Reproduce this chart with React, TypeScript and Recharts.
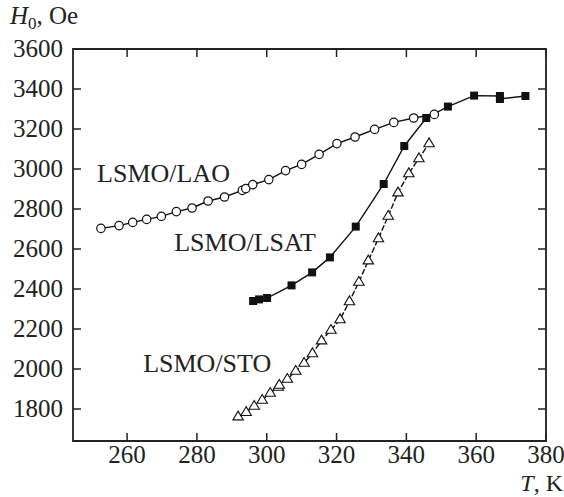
import React from 'react';
import { ComposedChart, Line, XAxis, YAxis, ReferenceArea, ReferenceDot } from 'recharts';

const laoT = [252.5, 257.7, 261.6, 265.6, 269.8, 274.1, 278.6, 283.2, 287.9, 293.0, 294.0, 296.0, 300.6, 305.4, 310.0, 315.0, 320.1, 325.3, 330.9, 336.4, 342.1, 348.0];
const laoH = [2703, 2717, 2733, 2748, 2763, 2787, 2805, 2840, 2860, 2893, 2902, 2922, 2947, 2992, 3023, 3073, 3127, 3160, 3198, 3233, 3255, 3273];

const lsatT = [296.1, 297.8, 300.1, 307.1, 313.0, 318.1, 325.5, 333.5, 339.4, 345.7, 351.9, 359.4, 366.8, 366.8, 374.1];
const lsatH = [2340, 2348, 2355, 2418, 2483, 2558, 2712, 2925, 3115, 3255, 3312, 3367, 3365, 3350, 3365];

const stoT = [291.8, 294.1, 296.4, 298.7, 301.0, 303.3, 303.6, 305.9, 308.3, 310.7, 313.1, 315.7, 318.4, 321.0, 323.7, 326.4, 329.1, 332.0, 334.8, 337.6, 340.7, 343.6, 346.5];
const stoH = [1762, 1784, 1815, 1845, 1880, 1910, 1920, 1950, 1990, 2030, 2078, 2142, 2195, 2248, 2338, 2435, 2542, 2653, 2765, 2882, 2978, 3053, 3128];

const xTicks = [260, 280, 300, 320, 340, 360, 380];
const yTicks = [1800, 2000, 2200, 2400, 2600, 2800, 3000, 3200, 3400, 3600];
const xDomain: [number, number] = [244.5, 380];
const yDomain: [number, number] = [1640, 3600];

const seriesLabels = [
  { text: 'LSMO/LAO', T: 251.4, H: 2935 },
  { text: 'LSMO/LSAT', T: 273.5, H: 2590 },
  { text: 'LSMO/STO', T: 264.6, H: 1985 },
];

const zip = (t: number[], h: number[]) => t.map((T, i) => ({ T, H: h[i] }));
const lao = zip(laoT, laoH);
const lsat = zip(lsatT, lsatH);
const sto = zip(stoT, stoH);

const W = 564;
const H = 497;
const M = { top: 49, right: 18, bottom: 56, left: 73 };
const FONT = '"Liberation Serif", "Times New Roman", serif';
const TICK = 8;
const FS = 25;

const XTick = (props: any) => {
  const { x, payload } = props;
  const bottom = H - M.bottom;
  return (
    <g>
      <line x1={x} x2={x} y1={bottom} y2={bottom - TICK} stroke="#222" strokeWidth={1.5} />
      <line x1={x} x2={x} y1={M.top} y2={M.top + TICK} stroke="#222" strokeWidth={1.5} />
      <text x={x} y={bottom + 22} textAnchor="middle" fontFamily={FONT} fontSize={FS} fill="#222">
        {payload.value}
      </text>
    </g>
  );
};

const YTick = (props: any) => {
  const { y, payload } = props;
  const left = M.left;
  const right = W - M.right;
  return (
    <g>
      <line x1={left} x2={left + TICK} y1={y} y2={y} stroke="#222" strokeWidth={1.5} />
      <line x1={right} x2={right - TICK} y1={y} y2={y} stroke="#222" strokeWidth={1.5} />
      <text x={left - 10} y={y + 8} textAnchor="end" fontFamily={FONT} fontSize={FS} fill="#222">
        {payload.value}
      </text>
    </g>
  );
};

const CircleDot = (props: any) => {
  const { cx, cy, index } = props;
  return <circle key={`c${index}`} cx={cx} cy={cy} r={4.2} fill="#fff" stroke="#111" strokeWidth={1.2} />;
};

const SquareDot = (props: any) => {
  const { cx, cy, index } = props;
  const s = 8;
  return <rect key={`s${index}`} x={cx - s / 2} y={cy - s / 2} width={s} height={s} fill="#111" />;
};

const TriDot = (props: any) => {
  const { cx, cy, index } = props;
  const r = 5.5;
  const pts = `${cx},${cy - r} ${cx - r * 0.95},${cy + r * 0.6} ${cx + r * 0.95},${cy + r * 0.6}`;
  return <polygon key={`t${index}`} points={pts} fill="#fff" stroke="#111" strokeWidth={1.1} />;
};

const TextLabel = (text: string) => (props: any) => {
  const { viewBox } = props;
  return (
    <text x={viewBox.x} y={viewBox.y} fontFamily={FONT} fontSize={26} fill="#222" textAnchor="start">
      {text}
    </text>
  );
};

export default function App() {
  return (
    <div style={{ position: 'absolute', left: 0, top: 0, width: W, height: H, background: '#fff' }}>
      <ComposedChart
        width={W}
        height={H}
        margin={{ top: M.top, right: M.right, bottom: M.bottom - 30, left: M.left - 60 }}
      >
        <XAxis
          type="number"
          dataKey="T"
          domain={xDomain}
          ticks={xTicks}
          allowDataOverflow
          height={30}
          tickSize={0}
          tickLine={false}
          axisLine={false}
          tick={<XTick />}
          interval={0}
        />
        <YAxis
          type="number"
          dataKey="H"
          domain={yDomain}
          ticks={yTicks}
          allowDataOverflow
          width={60}
          tickSize={0}
          tickLine={false}
          axisLine={false}
          tick={<YTick />}
          interval={0}
        />
        <ReferenceArea
          x1={xDomain[0]}
          x2={xDomain[1]}
          y1={yDomain[0]}
          y2={yDomain[1]}
          fill="none"
          fillOpacity={0}
          stroke="#222"
          strokeWidth={1.8}
          ifOverflow="visible"
        />
        <Line
          data={lao}
          dataKey="H"
          stroke="#111"
          strokeWidth={1.4}
          dot={<CircleDot />}
          isAnimationActive={false}
          type="linear"
        />
        <Line
          data={sto}
          dataKey="H"
          stroke="#111"
          strokeWidth={1.4}
          strokeDasharray="6 2"
          dot={<TriDot />}
          isAnimationActive={false}
          type="linear"
        />
        <Line
          data={lsat}
          dataKey="H"
          stroke="#111"
          strokeWidth={1.4}
          dot={<SquareDot />}
          isAnimationActive={false}
          type="linear"
        />
        {seriesLabels.map((l) => (
          <ReferenceDot
            key={l.text}
            x={l.T}
            y={l.H}
            r={0}
            fill="none"
            stroke="none"
            ifOverflow="visible"
            label={TextLabel(l.text)}
          />
        ))}
      </ComposedChart>
      <svg width={W} height={H} style={{ position: 'absolute', left: 0, top: 0, pointerEvents: 'none' }}>
        <text x={10} y={24} fontFamily={FONT} fontSize={FS} fill="#222">
          <tspan fontStyle="italic">H</tspan>
          <tspan fontSize={17} dy={5}>0</tspan>
          <tspan dy={-5}>, Oe</tspan>
        </text>
        <text x={563} y={491} textAnchor="end" fontFamily={FONT} fontSize={24} fill="#222">
          <tspan fontStyle="italic">T</tspan>
          <tspan>, K</tspan>
        </text>
      </svg>
    </div>
  );
}
